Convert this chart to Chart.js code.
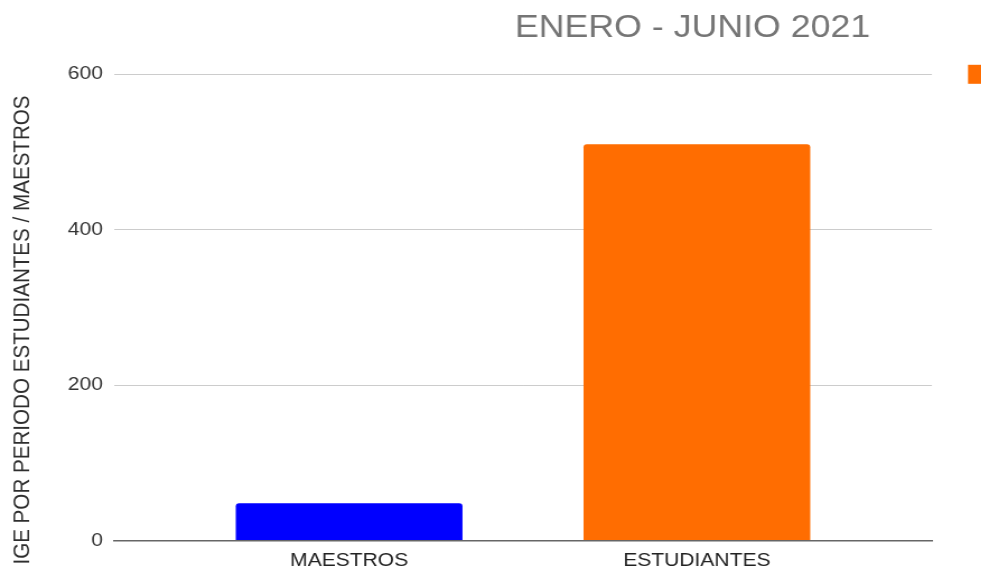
<!DOCTYPE html>
<html>
<head>
<meta charset="utf-8">
<script src="https://cdn.jsdelivr.net/npm/chart.js@4.4.1/dist/chart.umd.min.js"></script>
<style>
  html, body { margin: 0; padding: 0; overflow: hidden; background: #ffffff; }
  #wrap { position: absolute; left: 0; top: 0; width: 876px; height: 571px; transform: scaleX(1.12); transform-origin: 0 0; }
</style>
</head>
<body>
<div id="wrap"><canvas id="chart"></canvas></div>
<script>
// ---- data ----
const chartTitle = 'ENERO - JUNIO 2021';
const yAxisTitle = 'IGE POR PERIODO ESTUDIANTES / MAESTROS';
const categories = ['MAESTROS', 'ESTUDIANTES'];
const values = [48, 510];
const barColors = ['#0000ff', '#ff6d01'];
const seriesColor = '#ff6d01';
const yTicks = [0, 200, 400, 600];

const FONT = '"Liberation Sans", Arial, sans-serif';

const extrasPlugin = {
  id: 'sheetExtras',
  afterDraw(chart) {
    const { ctx, chartArea: a } = chart;
    ctx.save();
    // chart title
    ctx.fillStyle = '#757575';
    ctx.font = '31.9px ' + FONT;
    ctx.textAlign = 'center';
    ctx.textBaseline = 'alphabetic';
    ctx.fillText(chartTitle, 618.3, 36.9);
    // y axis title
    ctx.save();
    ctx.translate(26.2, 330);
    ctx.rotate(-Math.PI / 2);
    ctx.fillStyle = '#2e2e2e';
    ctx.font = '20.6px ' + FONT;
    ctx.textAlign = 'center';
    ctx.textBaseline = 'alphabetic';
    ctx.fillText(yAxisTitle, 0, 0);
    ctx.restore();
    // legend swatch (cut off at the right edge)
    ctx.fillStyle = seriesColor;
    ctx.fillRect(a.right + 32.2, a.top - 9.5, 17, 19);
    ctx.restore();
  }
};

new Chart(document.getElementById('chart'), {
  type: 'bar',
  data: {
    datasets: [{
      label: yAxisTitle,
      data: categories.map((c, i) => ({ x: i, y: values[i] })),
      backgroundColor: barColors,
      borderWidth: 0,
      borderRadius: { topLeft: 3, topRight: 3, bottomLeft: 0, bottomRight: 0 },
      borderSkipped: 'bottom',
      categoryPercentage: 1,
      barPercentage: 0.652
    }]
  },
  options: {
    responsive: true,
    maintainAspectRatio: false,
    animation: false,
    layout: { padding: { top: 74.3, left: 50.5, right: 43.9, bottom: -10 } },
    plugins: {
      legend: { display: false },
      title: { display: false },
      tooltip: { enabled: false }
    },
    scales: {
      x: {
        type: 'linear',
        min: -0.676,
        max: 1.676,
        offset: false,
        afterBuildTicks: (axis) => { axis.ticks = categories.map((c, i) => ({ value: i })); },
        ticks: {
          callback: (v) => categories[v],
          color: '#222222',
          font: { family: FONT, size: 18.8 },
          padding: 9,
          maxRotation: 0,
          autoSkip: false
        },
        grid: { display: false, drawTicks: false, offset: false },
        border: { display: true, color: '#666666', width: 1.6 }
      },
      y: {
        min: 0,
        max: 600,
        afterBuildTicks: (axis) => { axis.ticks = yTicks.map(v => ({ value: v })); },
        ticks: {
          color: '#333333',
          font: { family: FONT, size: 18.8 },
          padding: 10
        },
        grid: { color: '#cccccc', lineWidth: 1, drawTicks: false },
        border: { display: false }
      }
    }
  },
  plugins: [extrasPlugin]
});
</script>
</body>
</html>
